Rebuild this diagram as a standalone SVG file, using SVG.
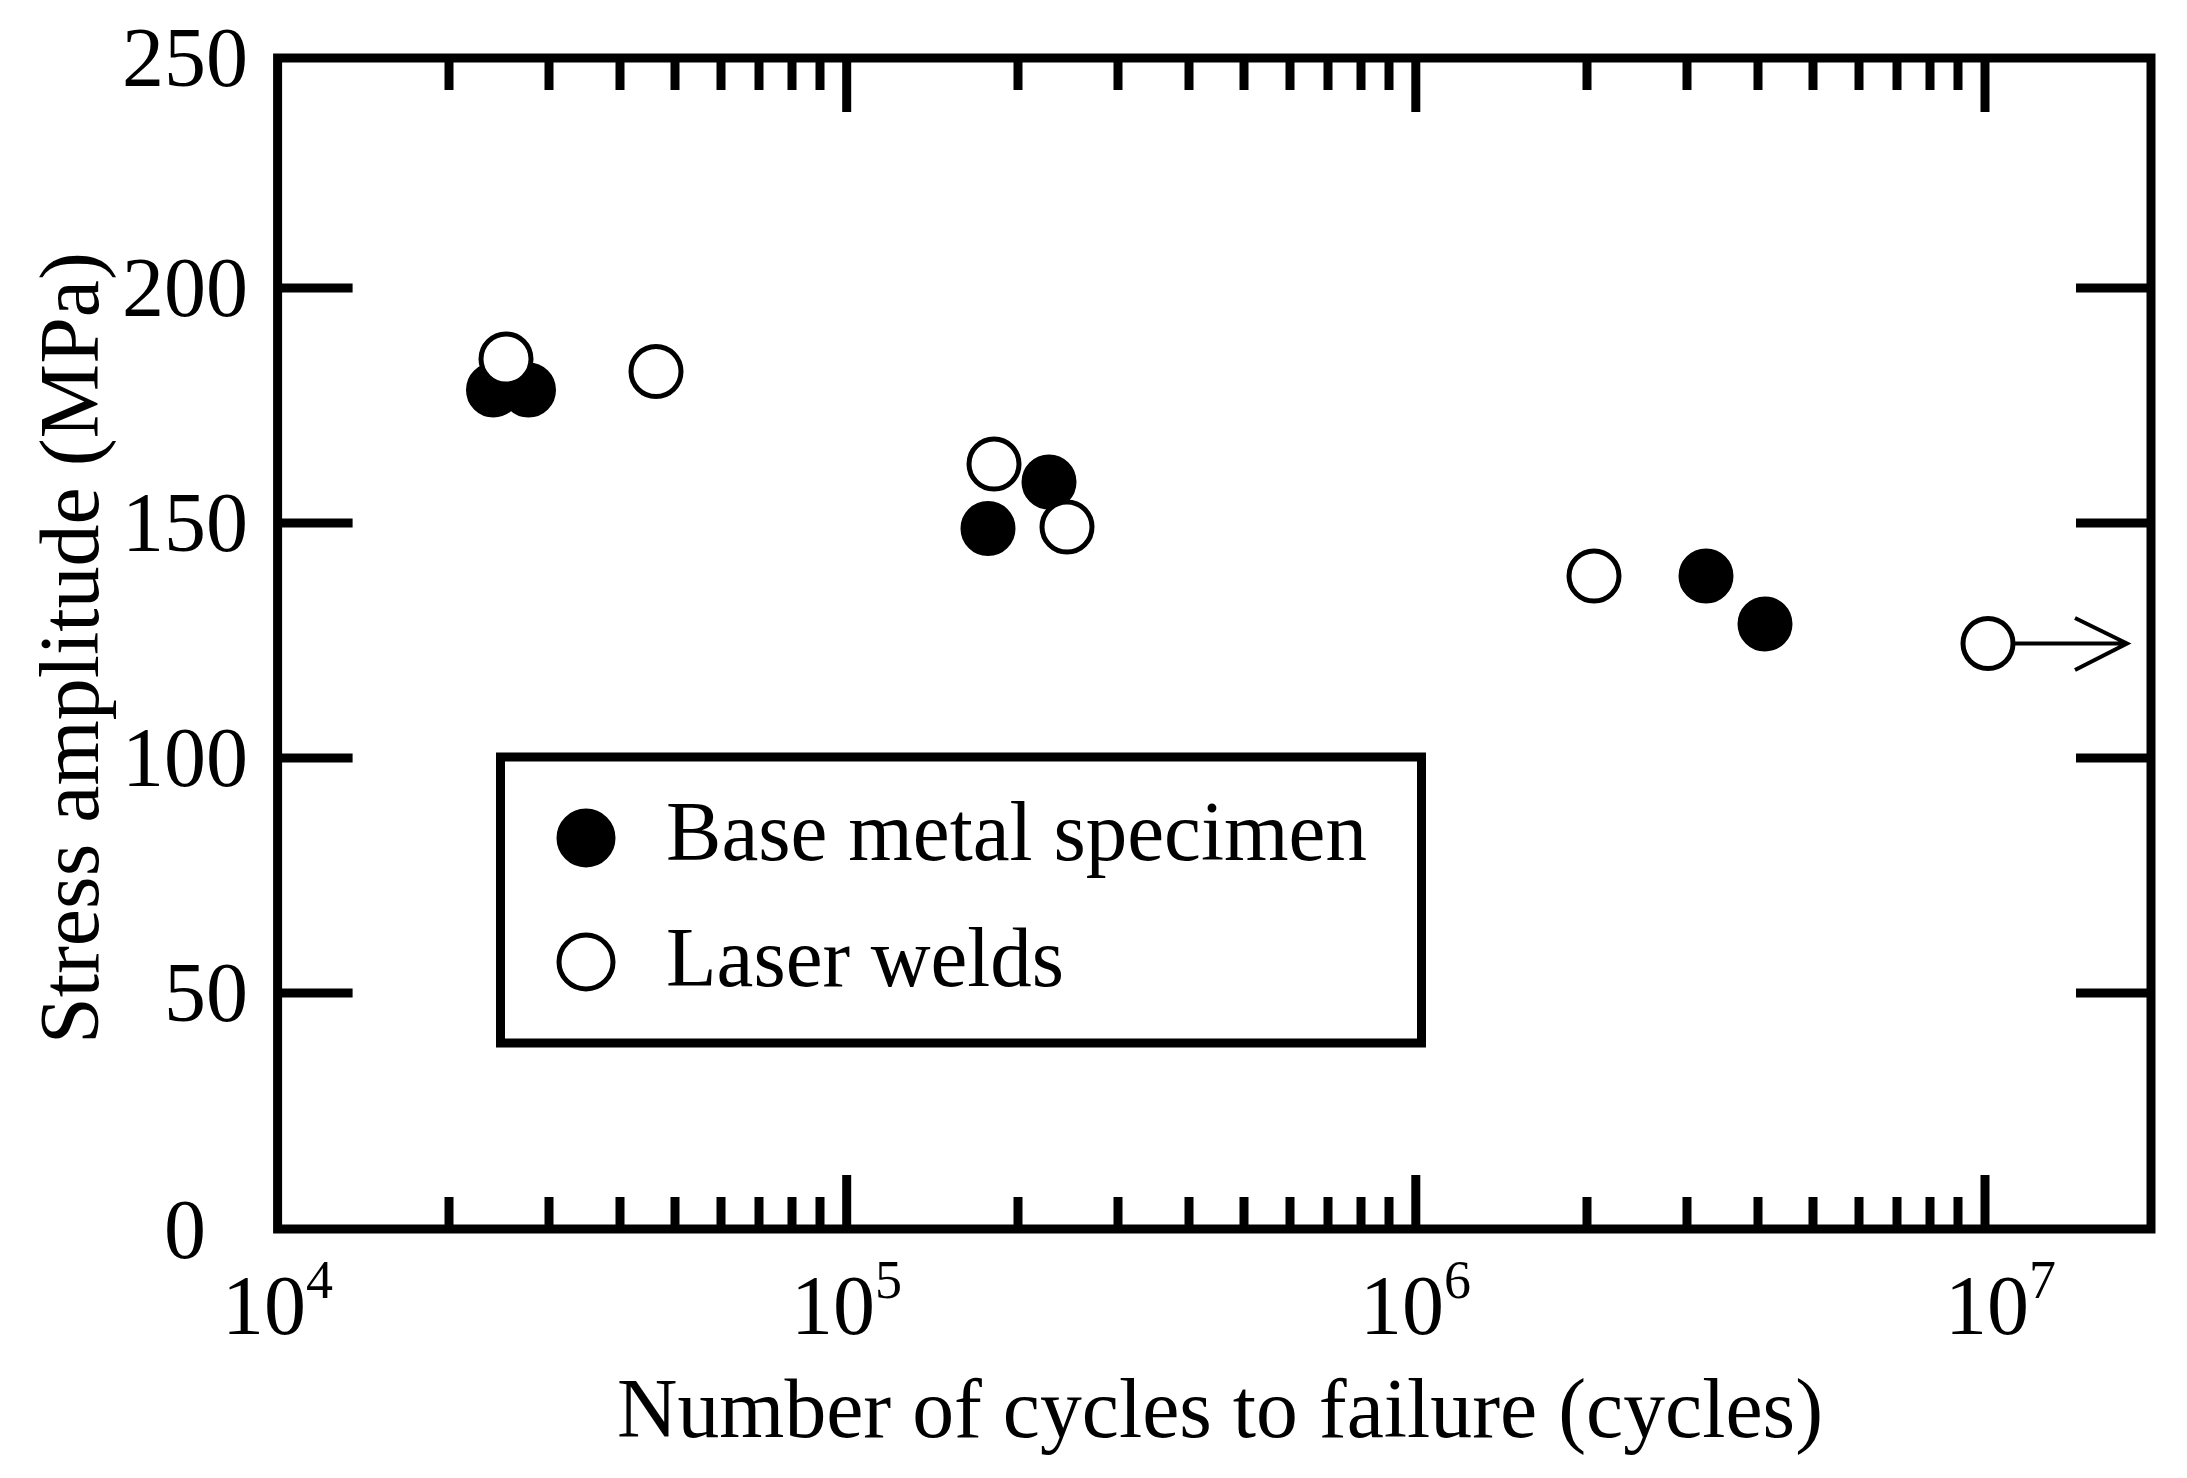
<svg xmlns="http://www.w3.org/2000/svg" width="2187" height="1478" viewBox="0 0 2187 1478">
<style>
.t{font-family:"Liberation Serif",serif;font-size:84px;fill:#000}
.ax{stroke:#000;stroke-width:9;fill:none}
.f{fill:#000;stroke:#000;stroke-width:5}
.o{fill:#fff;stroke:#000;stroke-width:5}
</style>
<rect width="2187" height="1478" fill="#fff"/>
<g id="axes">
<rect class="ax" x="277.6" y="58" width="1873.4" height="1171"/>
<path class="ax" d="
M277.6,288h75 M277.6,523h75 M277.6,758h75 M277.6,993h75
M2151,288h-75 M2151,523h-75 M2151,758h-75 M2151,993h-75
M846.7,1229v-54 M1415.8,1229v-54 M1985,1229v-54
M846.7,58v54 M1415.8,58v54 M1985,58v54
M449,1229v-32 M549,1229v-32 M620,1229v-32 M675,1229v-32 M721,1229v-32 M759,1229v-32 M792,1229v-32 M820,1229v-32
M1018,1229v-32 M1118,1229v-32 M1189,1229v-32 M1244,1229v-32 M1290,1229v-32 M1328,1229v-32 M1361,1229v-32 M1389,1229v-32
M1587,1229v-32 M1687,1229v-32 M1758,1229v-32 M1813,1229v-32 M1859,1229v-32 M1897,1229v-32 M1930,1229v-32 M1958,1229v-32
M2156,1229v0
M449,58v32 M549,58v32 M620,58v32 M675,58v32 M721,58v32 M759,58v32 M792,58v32 M820,58v32
M1018,58v32 M1118,58v32 M1189,58v32 M1244,58v32 M1290,58v32 M1328,58v32 M1361,58v32 M1389,58v32
M1587,58v32 M1687,58v32 M1758,58v32 M1813,58v32 M1859,58v32 M1897,58v32 M1930,58v32 M1958,58v32"/>
</g>
<g id="ylabels" class="t" text-anchor="end">
<text x="248" y="86">250</text>
<text x="248" y="316">200</text>
<text x="248" y="551">150</text>
<text x="248" y="786">100</text>
<text x="248" y="1021">50</text>
<text x="206" y="1258">0</text>
</g>
<g id="xlabels" class="t">
<text x="222" y="1334">10<tspan font-size="54" dy="-36">4</tspan></text>
<text x="791" y="1334">10<tspan font-size="54" dy="-36">5</tspan></text>
<text x="1360" y="1334">10<tspan font-size="54" dy="-36">6</tspan></text>
<text x="1945" y="1334">10<tspan font-size="54" dy="-36">7</tspan></text>
</g>
<g id="titles" class="t">
<text x="617" y="1437" textLength="1206" lengthAdjust="spacingAndGlyphs">Number of cycles to failure (cycles)</text>
<text transform="translate(98,1044) rotate(-90)" textLength="792" lengthAdjust="spacingAndGlyphs">Stress amplitude (MPa)</text>
</g>
<g id="legend">
<rect class="ax" x="500.5" y="757" width="921" height="286" stroke-width="8"/>
<circle class="f" cx="586" cy="838" r="27"/>
<circle class="o" cx="586" cy="962" r="27"/>
<text class="t" x="666" y="860" textLength="701" lengthAdjust="spacingAndGlyphs">Base metal specimen</text>
<text class="t" x="666" y="986" textLength="398" lengthAdjust="spacingAndGlyphs">Laser welds</text>
</g>
<g id="points">
<circle class="f" cx="493.5" cy="390" r="25"/>
<circle class="f" cx="528.5" cy="390" r="25"/>
<circle class="o" cx="506" cy="359" r="25"/>
<circle class="o" cx="656" cy="371.5" r="25"/>
<circle class="o" cx="994" cy="464" r="25"/>
<circle class="f" cx="1049" cy="482" r="25"/>
<circle class="f" cx="988" cy="528.5" r="25"/>
<circle class="o" cx="1067" cy="527" r="25"/>
<circle class="o" cx="1594" cy="576" r="25"/>
<circle class="f" cx="1706" cy="576" r="25"/>
<circle class="f" cx="1765" cy="624" r="25"/>
<circle class="o" cx="1988" cy="643.5" r="25"/>
</g>
<g id="connectors">
<path d="M2013,643.5H2126 M2075,618L2127,643.5L2075,670" fill="none" stroke="#000" stroke-width="4"/>
</g>
</svg>
